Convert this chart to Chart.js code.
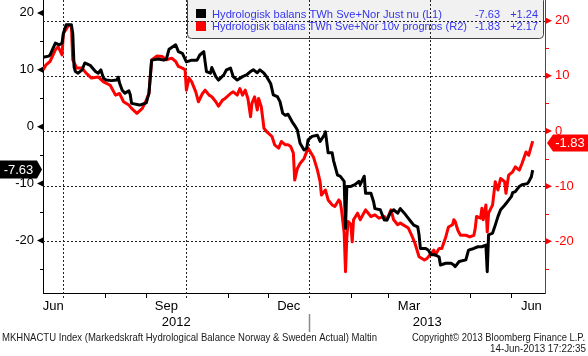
<!DOCTYPE html>
<html><head><meta charset="utf-8">
<script src="https://cdn.jsdelivr.net/npm/chart.js@4.4.0/dist/chart.umd.min.js"></script>
<style>html,body{margin:0;padding:0;background:#fff;}canvas{display:block;}</style>
</head><body>
<canvas id="c" width="588" height="356"></canvas>
<script>
// ---- data (x = days since 15 Jun 2012) ----
const blackDays = [1,5,6,10,13,15,16,18,22,23,
24,25,27,30,32,36,40,42,44,46,
48,52,56,57,58,60,62,65,66,67,
73,78,80,82,87,91,93,95,100,102,
105,108,112,116,118,121,122,123,126,127,
130,132,136,138,141,143,146,150,153,156,
158,161,163,166,168,171,173,176,178,180,
182,184,187,189,191,193,196,198,199,202,
206,208,211,212,214,217,218,221,223,226,
227,228,231,234,237,238,241,242,246,248,
249,253,256,258,261,263,266,268,271,273,
276,278,281,282,283,287,289,291,294,297,
298,302,306,308,309,312,317,319,323,326,
329,332,333,334,337,339,341,343,346,348,
351,352,354,357,359,363,364,366,367];
const blackVals = [12.2,12.4,12.6,14.7,14.4,14.7,16.4,17.9,17.9,16.4,
10.5,9.7,9.4,10.0,11.2,10.8,9.7,9.4,10.0,8.5,
8.2,8.1,8.2,8.7,7.7,6.4,5.9,6.3,5.6,4.1,
3.8,4.2,5.9,11.7,11.9,11.7,11.9,13.6,14.4,13.2,
12.9,11.4,11.7,11.7,12.6,13.2,11.4,9.7,9.4,10.4,
8.8,8.2,9.1,10.0,10.3,8.8,8.2,8.8,9.1,9.7,
10.0,9.5,10.0,9.4,8.8,7.6,5.6,5.3,4.4,2.4,
2.0,2.2,0.9,0.2,-0.6,-2.9,-4.1,-3.8,-2.3,-1.7,
-1.5,-2.6,-1.5,-0.9,-4.6,-4.6,-5.9,-8.5,-8.7,-9.6,
-17.9,-10.5,-10.5,-10.2,-9.6,-10.2,-8.7,-11.7,-11.7,-13.2,
-14.4,-14.6,-16.4,-16.4,-14.9,-14.6,-15.2,-14.4,-15.2,-15.8,
-16.7,-17.3,-17.6,-19.0,-21.4,-21.4,-21.7,-22.5,-22.5,-22.9,
-24.3,-24.0,-24.0,-24.3,-24.6,-23.7,-23.4,-21.7,-21.4,-21.1,
-21.1,-20.8,-25.5,-19.0,-18.7,-17.3,-15.8,-14.6,-13.8,-13.2,
-12.3,-11.6,-11.4,-10.5,-10.2,-10.0,-9.7,-8.8,-7.63];

const redDays = [1,3,6,10,12,15,16,20,22,23,
26,30,33,37,42,46,51,55,58,61,
65,67,71,75,78,80,82,86,90,93,
97,100,102,105,107,108,110,112,115,117,
120,122,125,127,130,132,135,137,141,143,
146,148,150,152,154,156,157,159,161,162,
164,166,168,172,174,177,179,182,184,186,
188,189,191,193,196,199,203,206,208,209,
212,214,217,219,222,223,224,226,227,228,
229,231,232,233,236,238,242,246,249,252,
256,258,261,263,266,268,274,277,279,282,
286,288,291,293,294,297,299,302,304,307,
308,309,311,313,317,320,323,324,325,328,
329,330,332,333,334,337,339,341,343,346,
347,349,352,354,357,359,362,364,367];
const redVals = [11.1,12.0,12.6,14.7,15.3,13.8,17.7,19.2,19.0,12.9,
11.4,11.4,10.5,9.6,9.8,8.9,8.3,6.5,6.8,5.3,
4.7,4.1,3.2,4.1,5.6,6.8,12.9,13.6,13.5,12.9,
13.2,12.6,11.7,11.4,11.1,7.4,9.6,8.9,7.1,5.3,
6.8,7.4,6.5,6.2,5.3,4.5,5.6,5.9,6.8,7.1,
6.5,7.7,6.5,7.4,5.9,2.6,5.0,6.2,3.8,5.9,
4.4,0.5,-0.1,-1.0,-2.5,-3.1,-1.9,-2.5,-2.5,-2.8,
-4.0,-8.9,-6.8,-5.9,-5.0,-3.1,-4.7,-7.1,-9.2,-11.6,
-10.7,-12.5,-13.4,-13.7,-12.5,-12.8,-14.3,-18.5,-25.5,-19.2,
-16.4,-16.9,-20.1,-16.1,-14.9,-16.1,-14.3,-15.5,-15.2,-15.8,
-15.5,-16.1,-14.3,-16.1,-17.0,-16.7,-17.6,-19.2,-20.4,-22.8,
-23.4,-23.1,-22.2,-21.6,-22.5,-21.3,-21.3,-19.2,-17.4,-17.0,
-16.1,-16.4,-18.0,-18.9,-18.9,-19.2,-18.9,-17.7,-15.5,-15.8,
-14.0,-16.1,-13.4,-18.3,-14.9,-13.4,-9.2,-10.7,-8.6,-9.2,
-11.3,-8.0,-7.4,-6.5,-7.1,-5.9,-3.8,-4.4,-1.83];

const seriesNames = ['Hydrologisk balans TWh Sve+Nor Just nu (L1)', 'Hydrologisk balans TWh Sve+Nor 10v prognos (R2)'];
const seriesChanges = ['+1.24', '+2.17'];

const monthStarts = [16,47,78,108,139,169,200,231,259,290,320,351];
const quarterStarts = [16,108,200,290];
const monthLabels = ['Jun','Sep','Dec','Mar','Jun'];
const monthLabelDays = [8.4,93,184.5,274.5,366];
const yearLabels = ['2012','2013'];
const yearLabelDays = [100.4,288.1];
const yearBreakDay = 200;
const yTicks = [-25,-20,-15,-10,-5,0,5,10,15,20];
const gridTicks = [-20,-10,0,10,20];

const footerLeft = 'MKHNACTU Index (Markedskraft Hydrological Balance Norway & Sweden Actual) Maltin';
const footerRight1 = 'Copyright\u00A9 2013 Bloomberg Finance L.P.';
const footerRight2 = '14-Jun-2013 17:22:35';

// ---- drawing ----
const FONT = "'Liberation Sans', Arial, sans-serif";
const RED = '#ff0000';
const LEGEND_BLUE = '#3636ee';

function fitText(ctx, text, x, y, w) {
  const m = ctx.measureText(text).width;
  ctx.save();
  ctx.translate(x, y);
  ctx.scale(w / m, 1);
  ctx.textAlign = 'left';
  ctx.fillText(text, 0, 0);
  ctx.restore();
}
function zeroPad(s) { s.paddingLeft = 0; s.paddingRight = 0; s.paddingTop = 0; s.paddingBottom = 0; }

const bbPlugin = {
  id: 'bb',
  beforeDraw(chart) {
    const ctx = chart.ctx;
    ctx.save();
    ctx.fillStyle = '#fff';
    ctx.fillRect(0, 0, chart.width, chart.height);
    // legend box
    ctx.beginPath();
    ctx.roundRect(187.5, -3.5, 356, 42, 4);
    ctx.fillStyle = '#f1f1f1';
    ctx.fill();
    ctx.strokeStyle = '#444';
    ctx.lineWidth = 1;
    ctx.stroke();
    ctx.fillStyle = '#000';
    ctx.fillRect(196, 9, 10, 9);
    ctx.fillStyle = RED;
    ctx.fillRect(196, 21, 10, 10);
    ctx.font = '11px ' + FONT;
    ctx.fillStyle = LEGEND_BLUE;
    ctx.textBaseline = 'alphabetic';
    fitText(ctx, seriesNames[0], 212, 17.5, 230);
    fitText(ctx, seriesNames[1], 212, 29.5, 255);
    ctx.textAlign = 'right';
    ctx.fillText(blackVals[blackVals.length - 1].toFixed(2), 500, 17.5);
    ctx.fillText(seriesChanges[0], 538, 17.5);
    ctx.fillText(redVals[redVals.length - 1].toFixed(2), 500, 29.5);
    ctx.fillText(seriesChanges[1], 538, 29.5);
    ctx.restore();
  },
  beforeDatasetsDraw(chart) {
    const {ctx, chartArea: a, scales: {x, y2}} = chart;
    ctx.save();
    ctx.strokeStyle = '#222';
    ctx.lineWidth = 1;
    ctx.setLineDash([2, 2]);
    gridTicks.forEach(v => {
      const py = Math.round(y2.getPixelForValue(v)) + 0.5;
      ctx.beginPath(); ctx.moveTo(a.left, py); ctx.lineTo(a.right, py); ctx.stroke();
    });
    quarterStarts.forEach(d => {
      const px = Math.round(x.getPixelForValue(d)) + 0.5;
      ctx.beginPath(); ctx.moveTo(px, a.top); ctx.lineTo(px, a.bottom + 5); ctx.stroke();
    });
    ctx.restore();
  },
  afterDraw(chart) {
    const {ctx, chartArea: a, scales: {x, y, y2}} = chart;
    ctx.save();
    // y tick marks
    yTicks.forEach(v => {
      let py = y.getPixelForValue(v);
      ctx.fillStyle = '#000'; ctx.strokeStyle = '#000'; ctx.lineWidth = 1;
      if (v % 10 === 0) {
        ctx.beginPath(); ctx.moveTo(a.left, py - 3); ctx.lineTo(a.left - 6, py); ctx.lineTo(a.left, py + 3); ctx.closePath(); ctx.fill();
      } else {
        const q = Math.round(py) + 0.5;
        ctx.beginPath(); ctx.moveTo(a.left - 3, q); ctx.lineTo(a.left, q); ctx.stroke();
      }
      py = y2.getPixelForValue(v);
      ctx.fillStyle = RED; ctx.strokeStyle = RED;
      if (v % 10 === 0) {
        ctx.beginPath(); ctx.moveTo(a.right + 1, py - 3); ctx.lineTo(a.right + 7, py); ctx.lineTo(a.right + 1, py + 3); ctx.closePath(); ctx.fill();
      } else {
        const q = Math.round(py) + 0.5;
        ctx.beginPath(); ctx.moveTo(a.right, q); ctx.lineTo(a.right + 4, q); ctx.stroke();
      }
    });
    // x minor tick marks
    ctx.strokeStyle = '#000'; ctx.lineWidth = 1;
    monthStarts.forEach(d => {
      if (quarterStarts.includes(d)) return;
      const px = Math.round(x.getPixelForValue(d)) + 0.5;
      ctx.beginPath(); ctx.moveTo(px, a.bottom); ctx.lineTo(px, a.bottom + 5); ctx.stroke();
    });
    // month + year labels
    ctx.fillStyle = '#000';
    ctx.font = '13px ' + FONT;
    ctx.textAlign = 'center';
    ctx.textBaseline = 'alphabetic';
    monthLabels.forEach((t, i) => ctx.fillText(t, x.getPixelForValue(monthLabelDays[i]), 310));
    yearLabels.forEach((t, i) => ctx.fillText(t, x.getPixelForValue(yearLabelDays[i]), 325.5));
    const bx = Math.round(x.getPixelForValue(yearBreakDay)) + 0.5;
    ctx.strokeStyle = '#8a8a8a'; ctx.lineWidth = 1.5;
    ctx.beginPath(); ctx.moveTo(bx, 314); ctx.lineTo(bx, 332); ctx.stroke();
    // footer
    ctx.fillStyle = '#1a1a1a';
    ctx.font = '11px ' + FONT;
    fitText(ctx, footerLeft, 2, 341, 375);
    fitText(ctx, footerRight1, 412, 341, 173);
    fitText(ctx, footerRight2, 490, 352, 96);
    // last value boxes
    const lb = blackVals[blackVals.length - 1];
    let cy = y.getPixelForValue(lb) - 0.5;
    ctx.fillStyle = '#000';
    ctx.beginPath(); ctx.moveTo(0, cy - 9); ctx.lineTo(37, cy - 9); ctx.lineTo(42, cy); ctx.lineTo(37, cy + 9); ctx.lineTo(0, cy + 9); ctx.closePath(); ctx.fill();
    ctx.fillStyle = '#fff';
    ctx.font = '13px ' + FONT;
    ctx.textAlign = 'center'; ctx.textBaseline = 'middle';
    ctx.fillText(lb.toFixed(2), 18.5, cy + 0.5);
    const lr = redVals[redVals.length - 1];
    cy = y2.getPixelForValue(lr) + 2;
    ctx.fillStyle = RED;
    ctx.beginPath(); ctx.moveTo(547, cy); ctx.lineTo(553, cy - 8.5); ctx.lineTo(588, cy - 8.5); ctx.lineTo(588, cy + 8.5); ctx.lineTo(553, cy + 8.5); ctx.closePath(); ctx.fill();
    ctx.fillStyle = '#fff';
    ctx.fillText(lr.toFixed(2), 570, cy + 0.5);
    ctx.restore();
  }
};

new Chart(document.getElementById('c'), {
  type: 'line',
  data: {
    datasets: [
      { label: seriesNames[0], data: blackDays.map((d, i) => ({x: d, y: blackVals[i]})),
        borderColor: '#000', borderWidth: 3, pointRadius: 0, tension: 0, fill: false,
        borderJoinStyle: 'round', yAxisID: 'y' },
      { label: seriesNames[1], data: redDays.map((d, i) => ({x: d, y: redVals[i]})),
        borderColor: RED, borderWidth: 3, pointRadius: 0, tension: 0, fill: false,
        borderJoinStyle: 'round', yAxisID: 'y2' }
    ]
  },
  options: {
    responsive: false, animation: false, devicePixelRatio: 1,
    layout: { padding: 0 },
    plugins: { legend: { display: false }, tooltip: { enabled: false } },
    scales: {
      x: { type: 'linear', min: 0.75, max: 376.2,
        grid: { display: false, drawTicks: false },
        border: { display: true, color: '#000', width: 1 },
        ticks: { display: false },
        afterBuildTicks: s => { s.ticks = monthStarts.map(v => ({value: v})); },
        afterFit: s => { s.height = 63; zeroPad(s); } },
      y: { position: 'left', min: -29.23, max: 22.27,
        grid: { display: false, drawTicks: false },
        border: { display: true, color: '#000', width: 1 },
        afterBuildTicks: s => { s.ticks = yTicks.map(v => ({value: v})); },
        ticks: { padding: 9, color: '#000', font: { family: FONT, size: 13 },
          callback: v => (v % 10 === 0 ? String(v) : '') },
        afterFit: s => { s.width = 43; zeroPad(s); } },
      y2: { position: 'right', min: -29.37, max: 23.75,
        grid: { display: false, drawTicks: false },
        border: { display: true, color: RED, width: 1 },
        afterBuildTicks: s => { s.ticks = yTicks.map(v => ({value: v})); },
        ticks: { padding: 10, color: RED, font: { family: FONT, size: 13 },
          callback: v => (v % 10 === 0 ? String(v) : '') },
        afterFit: s => { s.width = 43; zeroPad(s); } }
    }
  },
  plugins: [bbPlugin]
});
</script>
</body></html>
